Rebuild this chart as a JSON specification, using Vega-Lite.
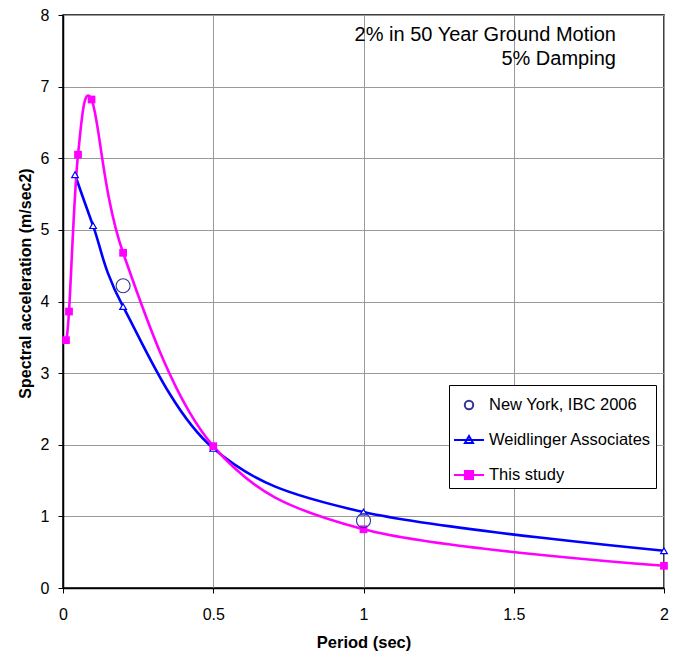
{
  "$schema": "https://vega.github.io/schema/vega-lite/v6.json",
  "width": 601,
  "height": 573,
  "autosize": {"type": "none"},
  "padding": {"left": 63, "top": 15, "right": 12, "bottom": 65},
  "background": "white",
  "config": {
    "font": "Liberation Sans",
    "view": {"stroke": "#000", "strokeWidth": 1.5},
    "legend": {"title": null, "orient": "none", "legendX": 386, "legendY": 370, "padding": 4, "strokeColor": "#000", "fillColor": "#FFFFFF", "symbolSize": 900, "symbolStrokeWidth": 2, "symbolOpacity": 1, "labelFontSize": 16.5, "labelColor": "#000", "labelLimit": 400, "labelOffset": 4, "rowPadding": 10}
  },
  "datasets": {
    "curves": [
      {"series": "New York, IBC 2006", "period": 0.2, "sa": 4.22},
      {"series": "New York, IBC 2006", "period": 1.0, "sa": 0.94},
      {"series": "Weidlinger Associates", "period": 0.04, "sa": 5.77},
      {"series": "Weidlinger Associates", "period": 0.1, "sa": 5.06},
      {"series": "Weidlinger Associates", "period": 0.2, "sa": 3.93},
      {"series": "Weidlinger Associates", "period": 0.5, "sa": 1.95},
      {"series": "Weidlinger Associates", "period": 1.0, "sa": 1.06},
      {"series": "Weidlinger Associates", "period": 2.0, "sa": 0.52},
      {"series": "This study", "period": 0.01, "sa": 3.46},
      {"series": "This study", "period": 0.02, "sa": 3.86},
      {"series": "This study", "period": 0.05, "sa": 6.05},
      {"series": "This study", "period": 0.095, "sa": 6.82},
      {"series": "This study", "period": 0.2, "sa": 4.68},
      {"series": "This study", "period": 0.5, "sa": 1.98},
      {"series": "This study", "period": 1.0, "sa": 0.82},
      {"series": "This study", "period": 2.0, "sa": 0.31}
    ],
    "notes": [
      {"period": 1.84, "sa": 7.637, "label": "2% in 50 Year Ground Motion"},
      {"period": 1.84, "sa": 7.3, "label": "5% Damping"}
    ]
  },
  "encoding": {
    "x": {
      "field": "period", "type": "quantitative",
      "scale": {"domain": [0, 2], "nice": false, "zero": false},
      "axis": {
        "values": [0, 0.5, 1, 1.5, 2], "format": "~g", "title": "Period (sec)",
        "grid": true, "gridColor": "#999999", "gridWidth": 1,
        "domainColor": "#000", "domainWidth": 1.5,
        "tickColor": "#000", "tickSize": 5, "tickWidth": 1,
        "labelFontSize": 16, "labelColor": "#000", "labelPadding": 13,
        "labelFlush": false, "labelOverlap": false,
        "titleFontSize": 16.5, "titleFontWeight": "bold", "titleColor": "#000",
        "titleBaseline": "alphabetic", "titleY": 59
      }
    },
    "y": {
      "field": "sa", "type": "quantitative",
      "scale": {"domain": [0, 8], "nice": false},
      "axis": {
        "values": [0, 1, 2, 3, 4, 5, 6, 7, 8], "title": "Spectral acceleration (m/sec2)",
        "grid": true, "gridColor": "#999999", "gridWidth": 1,
        "domainColor": "#000", "domainWidth": 1.5,
        "tickColor": "#000", "tickSize": 5, "tickWidth": 1,
        "labelFontSize": 16, "labelColor": "#000", "labelPadding": 9,
        "labelFlush": false, "labelOverlap": false,
        "titleFontSize": 16, "titleFontWeight": "bold", "titleColor": "#000",
        "titleBaseline": "alphabetic", "titleAngle": 270, "titleAlign": "center",
        "titleX": -33, "titleY": 268
      }
    }
  },
  "layer": [
    {
      "data": {"name": "curves"},
      "transform": [{"filter": "datum.series !== 'New York, IBC 2006'"}],
      "mark": {"type": "line", "interpolate": "cardinal", "tension": 0, "strokeWidth": 2.6},
      "encoding": {
        "stroke": {
          "field": "series", "type": "nominal",
          "scale": {"domain": ["New York, IBC 2006", "Weidlinger Associates", "This study"], "range": ["#333399", "#0000FF", "#FF00FF"]}
        }
      }
    },
    {
      "data": {"name": "curves"},
      "transform": [{"filter": "datum.series === 'Weidlinger Associates'"}],
      "mark": {"type": "point", "shape": "triangle-up", "size": 45, "opacity": 1, "strokeWidth": 1.2, "stroke": "#0000FF", "fill": "#FFFFFF"}
    },
    {
      "data": {"name": "curves"},
      "transform": [{"filter": "datum.series === 'This study'"}],
      "mark": {"type": "point", "shape": "square", "size": 60, "opacity": 1, "strokeWidth": 0, "fill": "#FF00FF", "filled": true}
    },
    {
      "data": {"name": "curves"},
      "transform": [{"filter": "datum.series === 'New York, IBC 2006'"}],
      "mark": {"type": "point", "shape": "circle", "size": 196, "opacity": 1, "strokeWidth": 1.1, "stroke": "#333399", "fill": "transparent"}
    },
    {
      "data": {"name": "curves"},
      "transform": [{"filter": "datum.sa < -100"}],
      "mark": {"type": "point", "opacity": 1},
      "encoding": {
        "stroke": {"field": "series", "type": "nominal"},
        "fill": {"field": "series", "type": "nominal",
          "scale": {"domain": ["New York, IBC 2006", "Weidlinger Associates", "This study"], "range": ["transparent", "#FFFFFF", "#FF00FF"]}},
        "shape": {
          "field": "series", "type": "nominal",
          "scale": {"domain": ["New York, IBC 2006", "Weidlinger Associates", "This study"], "range": ["M-0.28,0A0.28,0.28,0,1,1,0.28,0A0.28,0.28,0,1,1,-0.28,0Z", "M-1,0H1M-0.27,0.2L0,-0.27L0.27,0.2Z", "M-1,0H1M-0.27,-0.27H0.27V0.27H-0.27Z"]}
        }
      }
    },
    {
      "data": {"name": "notes"},
      "mark": {"type": "text", "align": "right", "baseline": "alphabetic", "fontSize": 20, "color": "#000"},
      "encoding": {"text": {"field": "label", "type": "nominal"}}
    }
  ]
}
